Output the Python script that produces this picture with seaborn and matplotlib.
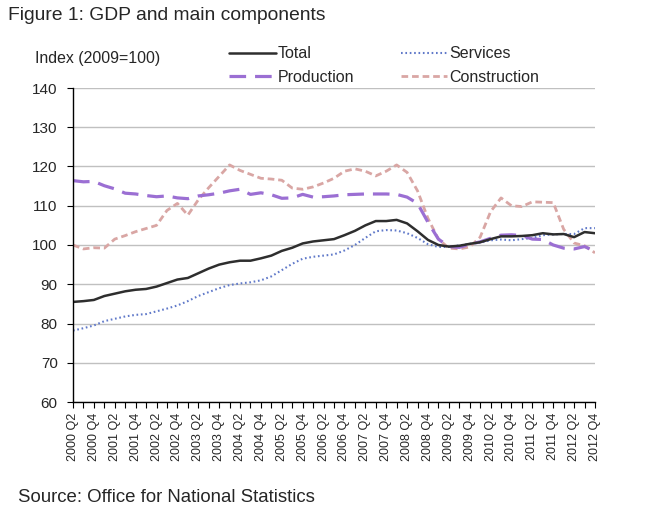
import matplotlib
matplotlib.use("Agg")
import matplotlib.pyplot as plt
import seaborn as sns
import pandas as pd
import numpy as np

quarters = [f"{y} Q{q}" for y in range(2000, 2013) for q in (1, 2, 3, 4)][1:]
total = [85.5, 85.7, 86.0, 87.0, 87.6, 88.2, 88.6, 88.8, 89.4, 90.3, 91.2, 91.6, 92.8, 94.0,
         95.0, 95.6, 96.0, 96.0, 96.6, 97.3, 98.5, 99.3, 100.4, 100.9, 101.2, 101.5, 102.5,
         103.6, 105.0, 106.1, 106.1, 106.4, 105.5, 103.5, 101.3, 100.0, 99.6, 99.8, 100.3,
         100.7, 101.5, 102.2, 102.2, 102.3, 102.5, 103.0, 102.7, 102.8, 102.0, 103.3, 103.0]
services = [78.2, 78.8, 79.5, 80.6, 81.2, 81.8, 82.2, 82.4, 83.1, 83.8, 84.6, 85.7, 87.0, 88.0,
            89.0, 89.8, 90.2, 90.5, 91.0, 92.0, 93.6, 95.2, 96.5, 97.0, 97.3, 97.6, 98.6,
            100.0, 101.8, 103.5, 103.8, 103.7, 103.0, 101.8, 100.2, 99.5, 99.5, 99.9, 100.3,
            100.6, 101.2, 101.4, 101.2, 101.5, 101.8, 102.5, 102.7, 102.8, 102.8, 104.3, 104.3]
production = [116.4, 116.1, 116.2, 115.1, 114.3, 113.2, 113.0, 112.6, 112.3, 112.5, 112.0, 111.8,
              112.5, 112.8, 113.2, 113.8, 114.2, 112.9, 113.3, 112.8, 111.9, 112.0, 112.9, 112.2,
              112.3, 112.5, 112.8, 112.9, 113.0, 113.0, 113.0, 112.9, 112.2, 110.6, 105.8, 101.5,
              99.6, 99.4, 100.2, 100.8, 101.7, 102.5, 102.6, 102.4, 101.5, 101.4, 100.0, 99.2,
              99.0, 99.6, 98.4]
construction = [100.0, 99.0, 99.3, 99.2, 101.5, 102.4, 103.4, 104.2, 105.0, 108.8, 110.6, 107.6,
                111.5, 114.6, 117.5, 120.4, 119.0, 118.0, 117.0, 116.8, 116.5, 114.5, 114.2, 114.8,
                115.8, 117.0, 118.8, 119.4, 118.8, 117.6, 118.8, 120.4, 118.5, 113.8, 106.8, 101.5,
                99.2, 99.0, 99.5, 102.0, 108.5, 112.0, 110.0, 109.8, 111.0, 110.9, 110.8, 104.0,
                100.5, 99.8, 98.0]
tick_labels = quarters[::2]
y_ticks = [60, 70, 80, 90, 100, 110, 120, 130, 140]

sns.set_theme(style="white")
plt.rcParams['font.family'] = ['Liberation Sans', 'DejaVu Sans']

W, H = 650, 516
fig = plt.figure(figsize=(6.5, 5.16), dpi=100)
L, R, T, B = 73, 595, 88, 402
ax = fig.add_axes([L/W, 1-B/H, (R-L)/W, (B-T)/H])

x = np.arange(len(quarters))
df = pd.DataFrame({"x": x, "Total": total, "Services": services,
                   "Production": production, "Construction": construction})

styles = {
    "Construction": dict(color="#d9a6a4", lw=2.0, dashes=(2.4, 1.4)),
    "Services": dict(color="#6079c9", lw=1.5, dashes=(0.8, 1.3)),
    "Production": dict(color="#9b6fd3", lw=2.3, dashes=(5.2, 2.8)),
    "Total": dict(color="#2e2e2e", lw=1.8, dashes=None),
}
lines = {}
for name in ["Construction", "Services", "Production", "Total"]:
    st = styles[name]
    sns.lineplot(data=df, x="x", y=name, ax=ax, color=st["color"], linewidth=st["lw"], label=name)
    ln = ax.get_lines()[-1]
    if st["dashes"] is not None:
        ln.set_dashes(st["dashes"])
        ln.set_dash_capstyle("butt")
    lines[name] = ln

ax.set_ylim(60, 140)
ax.set_xlim(0, len(quarters) - 1)
ax.set_yticks(y_ticks)
ax.set_yticklabels([str(v) for v in y_ticks], fontsize=11)
ax.set_xticks(x, minor=True)
ax.set_xticks(x[::2])
ax.set_xticklabels(tick_labels, rotation=90, fontsize=9)
ax.tick_params(axis='x', which='both', direction='out', length=4, width=0.8, color='black', bottom=True, pad=3.5)
ax.tick_params(axis='y', direction='out', length=4, width=0.8, color='black', left=True, pad=7)
ax.grid(axis='y', color='#c0c0c0', linewidth=1.0)
ax.set_axisbelow(True)
for s in ["top", "right"]:
    ax.spines[s].set_visible(False)
for s in ["left", "bottom"]:
    ax.spines[s].set_color("black")
    ax.spines[s].set_linewidth(1.0)
ax.set_xlabel("")
ax.set_ylabel("")
ax.legend_.remove()

handles = [lines["Total"], lines["Production"], lines["Services"], lines["Construction"]]
leg = fig.legend(handles, ["Total", "Production", "Services", "Construction"], ncol=2,
                 loc="upper left", bbox_to_anchor=(218/W, 1-35/H), frameon=True,
                 facecolor="white", edgecolor="none", framealpha=1, fancybox=False,
                 handlelength=2.9, handletextpad=0.15, columnspacing=2.9, labelspacing=0.55,
                 borderpad=0.2, prop={'size': 11.5})

fig.text(8/W, 1-16/H, "Figure 1: GDP and main components", fontsize=13.9, va="center", ha="left")
fig.text(35/W, 1-59/H, "Index (2009=100)", fontsize=11.4, va="center", ha="left")
fig.text(18/W, 1-497/H, "Source: Office for National Statistics", fontsize=13.4, va="center", ha="left")

fig.savefig("out.png", dpi=100)
